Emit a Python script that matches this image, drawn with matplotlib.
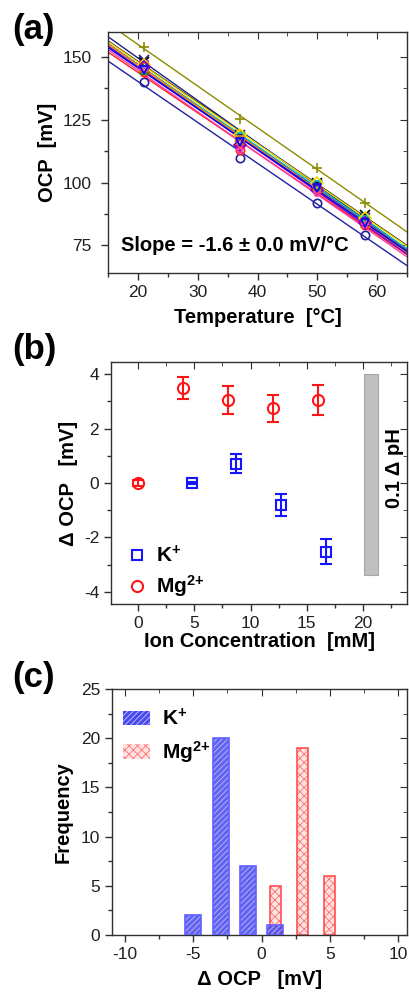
import numpy as np
import matplotlib
matplotlib.use('Agg')
from matplotlib import pyplot as plt
from matplotlib.patches import Patch
from matplotlib.lines import Line2D
from matplotlib.ticker import MultipleLocator

plt.rcParams['font.family'] = ['Liberation Sans', 'DejaVu Sans']
plt.rcParams['axes.unicode_minus'] = False
plt.rcParams['hatch.linewidth'] = 0.6
plt.rcParams['mathtext.fontset'] = 'custom'
plt.rcParams['mathtext.rm'] = 'Liberation Sans:bold'
plt.rcParams['mathtext.bf'] = 'Liberation Sans:bold'
plt.rcParams['mathtext.it'] = 'Liberation Sans:bold'

# (a) OCP vs temperature, one row per sensor
temps = [21, 37, 50, 58]
ocp_series = [
    [154, 125.5, 106, 92],
    [140, 110, 92, 79],
    [148, 118, 100, 87],
    [149, 119, 99, 86],
    [147, 116, 99, 85],
    [144, 113, 97, 83],
    [145, 117, 98, 84],
    [146, 118, 99, 85],
    [147, 119, 100, 86],
    [146, 117, 98, 84],
    [146, 115, 97, 84],
    [145, 113, 96, 83],
    [145, 116, 98, 84],
]
series_colors = ['#8c8c00', '#2020a0', '#000000', '#202080', '#c000c0', '#ff2020',
                 '#00a000', '#00c0c0', '#f0e000', '#ff8000', '#8000c0', '#ff40a0', '#0000ff']
series_markers = ['+', 'o', 'x', 'x', 's', 'o', '^', 'v', 'D', 's', 'D', '*', 'v']

# (b) ion concentration response
k_conc = [4.8, 8.7, 12.7, 16.7]
k_docp = [0.0, 0.7, -0.82, -2.52]
k_err = [0.05, 0.35, 0.4, 0.47]
mg_conc = [0, 4, 8, 12, 16]
mg_docp = [0.0, 3.5, 3.05, 2.75, 3.05]
mg_err = [0.1, 0.4, 0.5, 0.5, 0.55]
ph_bar = (20.1, 21.3, -3.4, 4.0)

# (c) histogram of OCP shifts
k_bins = [-5, -3, -1, 1]
k_freq = [2, 20, 7, 1]
mg_bins = [1, 3, 5]
mg_freq = [5, 19, 6]

k_label = r'K$^{+}$'
mg_label = r'Mg$^{2\!+}$'

fig = plt.figure(figsize=(4.09, 9.94), dpi=100)


def style_axes(ax):
    for s in ax.spines.values():
        s.set_color('#303030')
        s.set_linewidth(1.0)
    ax.tick_params(which='both', direction='out', top=False, right=False,
                   labelsize=12.5, colors='#303030', labelcolor='#202020')
    ax.tick_params(which='major', length=5, width=1)
    ax.tick_params(which='minor', length=3, width=1)
    tx = ax.secondary_xaxis('top')
    ty = ax.secondary_yaxis('right')
    for t in (tx, ty):
        t.tick_params(which='both', direction='in', labelsize=0, colors='#303030')
        t.tick_params(which='major', length=5)
        t.tick_params(which='minor', length=3)
        t.spines[:].set_visible(False)
    return tx, ty


def set_ticks(ax, tx, ty, xmaj, xmin, ymaj, ymin):
    for a in (ax, tx):
        a.xaxis.set_major_locator(MultipleLocator(xmaj))
        a.xaxis.set_minor_locator(MultipleLocator(xmin))
    for a in (ax, ty):
        a.yaxis.set_major_locator(MultipleLocator(ymaj))
        a.yaxis.set_minor_locator(MultipleLocator(ymin))
    tx.set_xticklabels([])
    ty.set_yticklabels([])


def bold_legend(leg):
    for t in leg.get_texts():
        t.set_fontweight('bold')


# ---------- (a)
axa = fig.add_axes([108 / 409, 1 - 273 / 994, 299 / 409, 241 / 994])
xfit = np.array([15, 65])
for vals, c, m in zip(ocp_series, series_colors, series_markers):
    p = np.polyfit(temps, vals, 1)
    axa.plot(xfit, np.polyval(p, xfit), color=c, lw=1.0, zorder=2)
    if m in ('+', 'x'):
        axa.plot(temps, vals, m, color=c, ms=7, mew=1.2, zorder=3)
    else:
        axa.plot(temps, vals, m, mfc='none', mec=c, ms=6, mew=1.2, zorder=3)
axa.set_xlim(15, 65)
axa.set_ylim(64, 160)
tx, ty = style_axes(axa)
set_ticks(axa, tx, ty, 10, 5, 25, 12.5)
axa.tick_params(axis='y', which='major', pad=7)
axa.set_xlabel('Temperature  [\u00b0C]', fontsize=14.5, fontweight='bold', labelpad=6)
axa.set_ylabel('OCP  [mV]', fontsize=14.5, fontweight='bold', labelpad=4)
axa.text(17.2, 75, 'Slope = -1.6 \u00b1 0.0 mV/\u00b0C', fontsize=14.5, fontweight='bold',
         va='center', ha='left')
fig.text(12 / 409, 1 - 30 / 994, '(a)', fontsize=25, fontweight='bold', va='center')

# ---------- (b)
axb = fig.add_axes([111 / 409, 1 - 604 / 994, 296 / 409, 242 / 994])
axb.fill_between([ph_bar[0], ph_bar[1]], ph_bar[2], ph_bar[3], color='#c0c0c0',
                 edgecolor='#a8a8a8', lw=0.8)
axb.errorbar(k_conc, k_docp, yerr=k_err, fmt='s', mfc='none', mec='#1515ff', ecolor='#1515ff',
             ms=6.5, mew=1.5, capsize=4, elinewidth=1.5, capthick=1.5)
axb.errorbar(mg_conc, mg_docp, yerr=mg_err, fmt='o', mfc='none', mec='#ff1515', ecolor='#ff1515',
             ms=8, mew=1.5, capsize=4, elinewidth=1.5, capthick=1.5)
axb.text(22.75, 0.56, '0.1 \u0394 pH', rotation=90, fontsize=14.5, fontweight='bold',
         ha='center', va='center')
axb.set_xlim(-2.4, 23.9)
axb.set_ylim(-4.45, 4.45)
tx, ty = style_axes(axb)
set_ticks(axb, tx, ty, 5, 2.5, 2, 1)
axb.set_xlabel('Ion Concentration  [mM]', fontsize=14.5, fontweight='bold', labelpad=1)
axb.set_ylabel('\u0394 OCP   [mV]', fontsize=14.5, fontweight='bold', labelpad=4)
bhandles = [Line2D([], [], ls='none', marker='s', mfc='none', mec='#1515ff', ms=6.5, mew=1.5),
            Line2D([], [], ls='none', marker='o', mfc='none', mec='#ff1515', ms=8, mew=1.5)]
leg = axb.legend(bhandles, [k_label, mg_label], loc='lower left', bbox_to_anchor=(0.005, -0.04),
                 frameon=False, fontsize=15, handlelength=1.0, handletextpad=0.4,
                 borderaxespad=0.3, labelspacing=0.35)
bold_legend(leg)
fig.text(12 / 409, 1 - 350 / 994, '(b)', fontsize=25, fontweight='bold', va='center')

# ---------- (c)
axc = fig.add_axes([112 / 409, 1 - 935 / 994, 295 / 409, 246 / 994])
axc.bar(mg_bins, mg_freq, width=0.82, color='#ffe2e2', edgecolor='#ff7070', hatch='xxxx',
        lw=0, zorder=2)
axc.bar(mg_bins, mg_freq, width=0.82, fill=False, edgecolor='#ff5050', lw=1.2, zorder=2)
axc.bar(k_bins, k_freq, width=1.18, color='#4848f0', edgecolor='#c8c8ff', hatch='//////',
        lw=0, alpha=0.85, zorder=3)
axc.bar(k_bins, k_freq, width=1.18, fill=False, edgecolor='#6060ff', lw=1.2, zorder=3)
axc.set_xlim(-10.95, 10.65)
axc.set_ylim(0, 25)
tx, ty = style_axes(axc)
set_ticks(axc, tx, ty, 5, 2.5, 5, 2.5)
axc.set_xlabel('\u0394 OCP   [mV]', fontsize=14.5, fontweight='bold', labelpad=6)
axc.set_ylabel('Frequency', fontsize=14.5, fontweight='bold', labelpad=6)
handles = [Patch(facecolor='#4848f0', edgecolor='#c8c8ff', hatch='//////', lw=0),
           Patch(facecolor='#ffe2e2', edgecolor='#ff7070', hatch='xxxx', lw=0)]
leg = axc.legend(handles, [k_label, mg_label], loc='upper left', frameon=False,
                 fontsize=15, handlelength=1.3, handleheight=0.7, handletextpad=0.6,
                 labelspacing=0.45, borderaxespad=0.4, bbox_to_anchor=(-0.02, 0.99))
bold_legend(leg)
fig.text(12 / 409, 1 - 678 / 994, '(c)', fontsize=25, fontweight='bold', va='center')

fig.savefig('out.png', dpi=100)
